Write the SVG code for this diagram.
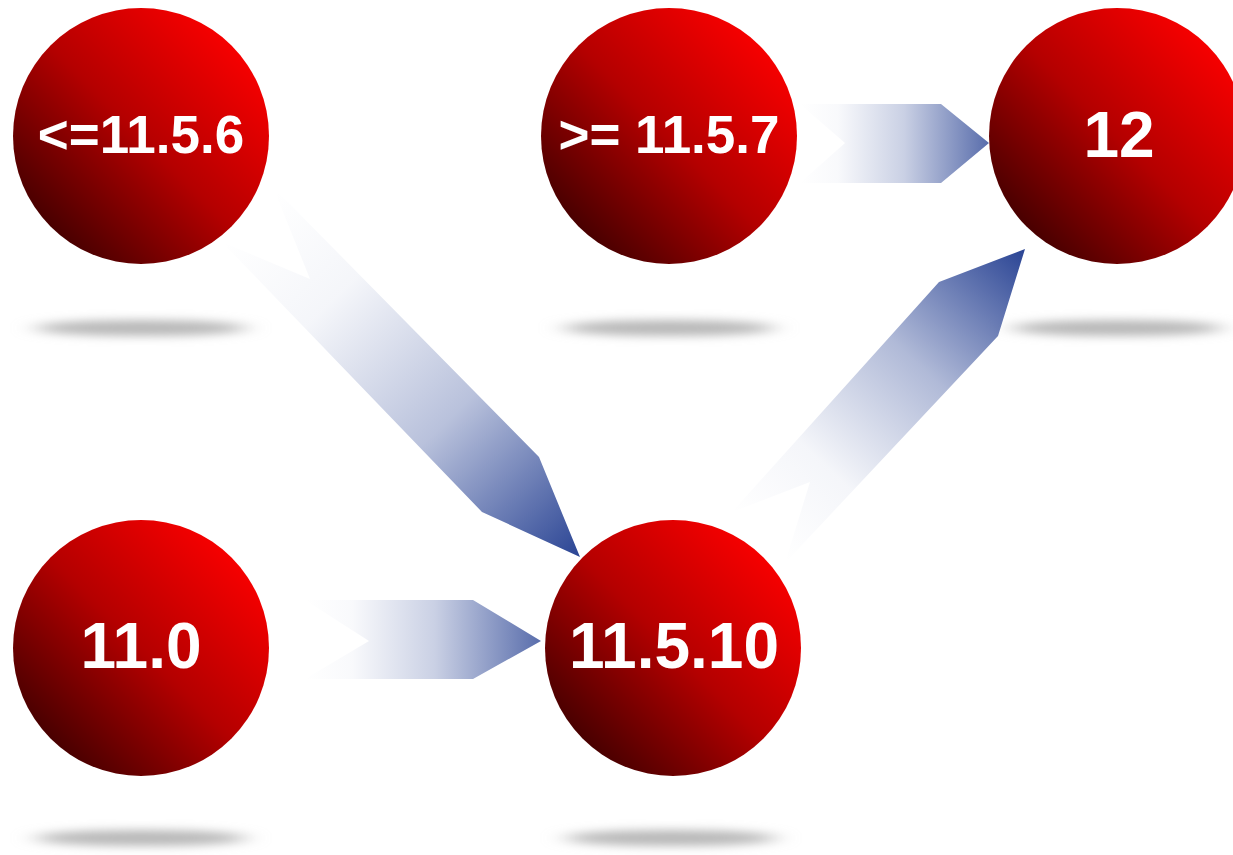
<svg xmlns="http://www.w3.org/2000/svg" width="1233" height="855" viewBox="0 0 1233 855">
  <defs>
    <linearGradient id="ball" x1="0.15" y1="0.85" x2="0.85" y2="0.15">
      <stop offset="0" stop-color="#4a0000"/>
      <stop offset="0.5" stop-color="#b40000"/>
      <stop offset="1" stop-color="#f50000"/>
    </linearGradient>
    <filter id="blur" x="-50%" y="-200%" width="200%" height="500%">
      <feGaussianBlur stdDeviation="12 5"/>
    </filter>
    <linearGradient id="g1" gradientUnits="userSpaceOnUse" x1="250" y1="215" x2="580" y2="557">
      <stop offset="0" stop-color="#2a4494" stop-opacity="0"/>
      <stop offset="0.25" stop-color="#2a4494" stop-opacity="0.05"/>
      <stop offset="0.6" stop-color="#2a4494" stop-opacity="0.33"/>
      <stop offset="1" stop-color="#2a4494" stop-opacity="1"/>
    </linearGradient>
    <linearGradient id="g2" gradientUnits="userSpaceOnUse" x1="758" y1="537" x2="1025" y2="249">
      <stop offset="0" stop-color="#2a4494" stop-opacity="0"/>
      <stop offset="0.25" stop-color="#2a4494" stop-opacity="0.05"/>
      <stop offset="0.6" stop-color="#2a4494" stop-opacity="0.37"/>
      <stop offset="1" stop-color="#2a4494" stop-opacity="1"/>
    </linearGradient>
    <linearGradient id="g3" gradientUnits="userSpaceOnUse" x1="305" y1="0" x2="541" y2="0">
      <stop offset="0" stop-color="#2a4494" stop-opacity="0"/>
      <stop offset="0.2" stop-color="#2a4494" stop-opacity="0.03"/>
      <stop offset="0.55" stop-color="#2a4494" stop-opacity="0.25"/>
      <stop offset="1" stop-color="#2a4494" stop-opacity="0.78"/>
    </linearGradient>
    <linearGradient id="g4" gradientUnits="userSpaceOnUse" x1="800" y1="0" x2="989" y2="0">
      <stop offset="0" stop-color="#2a4494" stop-opacity="0"/>
      <stop offset="0.2" stop-color="#2a4494" stop-opacity="0.03"/>
      <stop offset="0.55" stop-color="#2a4494" stop-opacity="0.25"/>
      <stop offset="1" stop-color="#2a4494" stop-opacity="0.78"/>
    </linearGradient>
  </defs>
  <style>
    .ball { fill: url(#ball); }
    .shadow { fill: #b8b8b8; filter: url(#blur); }
    .lbl { fill: #ffffff; font-family: "Liberation Sans", Arial, sans-serif; font-weight: bold; text-anchor: middle; }
    .s { font-size: 53px; }
    .l { font-size: 64px; }
  </style>
  <rect width="1233" height="855" fill="#ffffff"/>
  <g id="shadows">
    <ellipse class="shadow" cx="141" cy="328" rx="106" ry="8"/>
    <ellipse class="shadow" cx="669" cy="328" rx="106" ry="8"/>
    <ellipse class="shadow" cx="1117" cy="328" rx="106" ry="8"/>
    <ellipse class="shadow" cx="141" cy="838" rx="106" ry="8"/>
    <ellipse class="shadow" cx="671" cy="838" rx="106" ry="8"/>
  </g>
  <g id="connectors">
    <polygon fill="url(#g1)" points="273,187 539,457 580,557 482,512 222,242 310,279"/>
    <polygon fill="url(#g2)" points="732,512 939,282 1025,249 998,336 785,563 810,482"/>
    <polygon fill="url(#g3)" points="305,600 473,600 541,641 473,679 305,679 369,641"/>
    <polygon fill="url(#g4)" points="800,104 941,104 989,143 941,183 800,183 845,143"/>
  </g>
  <g id="node-11-5-6">
    <circle class="ball" cx="141" cy="136" r="128"/>
    <text class="lbl s" x="141" y="153">&lt;=11.5.6</text>
  </g>
  <g id="node-11-5-7">
    <circle class="ball" cx="669" cy="136" r="128"/>
    <text class="lbl s" x="669" y="153">&gt;= 11.5.7</text>
  </g>
  <g id="node-12">
    <circle class="ball" cx="1117" cy="136" r="128"/>
    <text class="lbl l" x="1119" y="157">12</text>
  </g>
  <g id="node-11-0">
    <circle class="ball" cx="141" cy="648" r="128"/>
    <text class="lbl l" x="141" y="668">11.0</text>
  </g>
  <g id="node-11-5-10">
    <circle class="ball" cx="673" cy="648" r="128"/>
    <text class="lbl l" x="674" y="668">11.5.10</text>
  </g>
</svg>
